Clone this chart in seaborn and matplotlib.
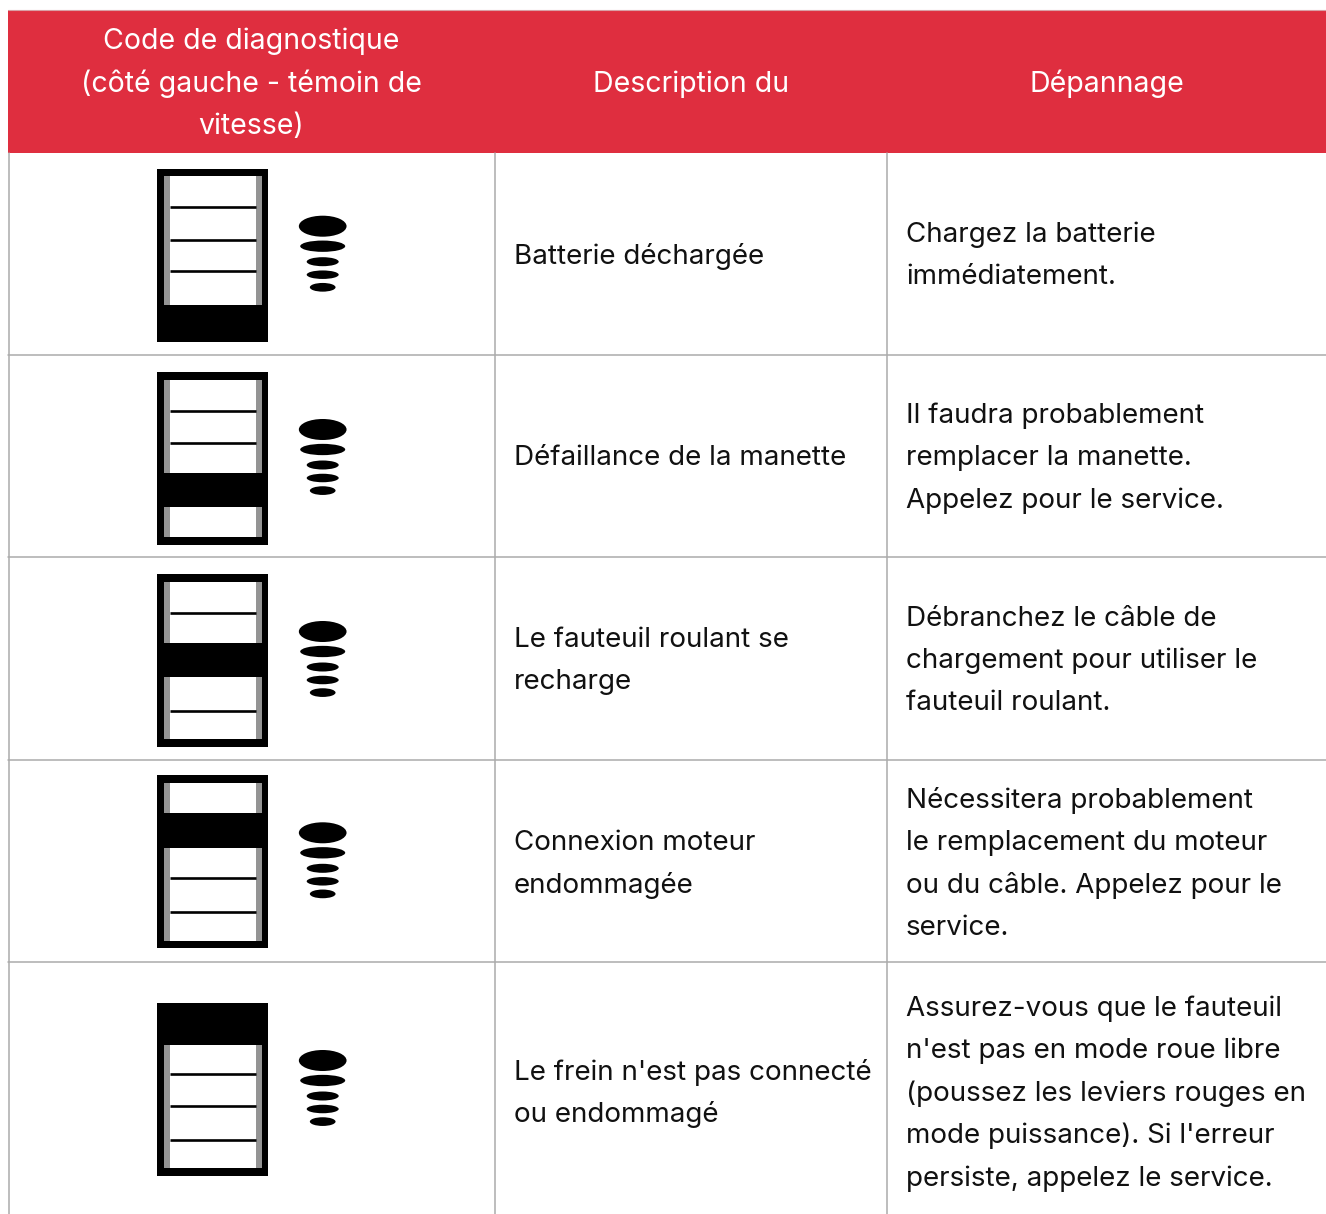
import matplotlib.pyplot as plt
import seaborn as sns
from matplotlib.patches import Ellipse, Rectangle

sns.set_theme(style="white")
plt.rcParams["font.family"] = ["Inter", "DejaVu Sans"]

# table content
headers = [
    ["Code de diagnostique", "(côté gauche - témoin de", "vitesse)"],
    ["Description du"],
    ["Dépannage"],
]
descriptions = [
    ["Batterie déchargée"],
    ["Défaillance de la manette"],
    ["Le fauteuil roulant se", "recharge"],
    ["Connexion moteur", "endommagée"],
    ["Le frein n'est pas connecté", "ou endommagé"],
]
fixes = [
    ["Chargez la batterie", "immédiatement."],
    ["Il faudra probablement", "remplacer la manette.", "Appelez pour le service."],
    ["Débranchez le câble de", "chargement pour utiliser le", "fauteuil roulant."],
    ["Nécessitera probablement", "le remplacement du moteur", "ou du câble. Appelez pour le", "service."],
    ["Assurez-vous que le fauteuil", "n'est pas en mode roue libre", "(poussez les leviers rouges en",
     "mode puissance). Si l'erreur", "persiste, appelez le service."],
]
# which battery segment is lit, 0 = top
lit_segment = [4, 3, 2, 1, 0]

# layout, in pixels
W, H = 1326, 1214
RED = "#DF2E3F"
GRID = "#ABABAB"
col_x = [8.5, 495, 887]
row_y = [354.5, 557, 759.5, 962]
row_mid = [256, 458, 661, 864, 1093.5]
icon_top = [168.7, 372, 574, 775.3, 1003]
seg_edges = [(0, 42), (37.4, 72.4), (69, 103), (101, 135), (136, 173)]
seg_lines = [38.5, 71, 102.5, 137]
dots = [(57.5, 47.7, 21), (77.5, 45, 11.3), (93, 32, 9), (106, 32, 8.5), (118.6, 25.7, 8.7)]
LINE = 42.5
FS = 20
FS_HEAD = 20.5

fig, ax = plt.subplots(figsize=(W / 100, H / 100), dpi=100)
fig.subplots_adjust(0, 0, 1, 1)
ax.set_xlim(0, W)
ax.set_ylim(H, 0)
ax.axis("off")


def text_block(x, mid, lines, size=FS, **kw):
    for i, line in enumerate(lines):
        y = mid + (i - (len(lines) - 1) / 2) * LINE
        ax.text(x, y, line, fontsize=size, va="center", **kw)


def draw_icon(top, lit):
    black = "#000000"
    ax.add_patch(Rectangle((157.3, top), 110.7, 173, color=black, lw=0))
    ax.add_patch(Rectangle((164.3, top + 7.5), 97.4, 157.8, color="#949494", lw=0))
    ax.add_patch(Rectangle((170, top + 7.5), 86, 157.8, color="white", lw=0))
    y0, y1 = seg_edges[lit]
    ax.add_patch(Rectangle((157.3, top + y0), 110.7, y1 - y0, color=black, lw=0))
    for s in seg_lines:
        if s < y0 - 3 or s > y1 + 3:
            ax.plot([170, 256], [top + s, top + s], color=black, lw=1.9, solid_capstyle="butt")
    for dy, w, h in dots:
        ax.add_patch(Ellipse((322.7, top + dy), w, h, color=black, lw=0))


# header band
ax.add_patch(Rectangle((8, 10), W - 8, 143, color=RED, lw=0))
ax.plot([8, W], [9.5, 9.5], color="#D9A0A6", lw=0.8)
for x, lines in zip([251, 691, 1107], headers):
    text_block(x, 84, lines, size=FS_HEAD, ha="center", color="white")

# grid
for y in row_y:
    ax.plot([8, W], [y, y], color=GRID, lw=1.1)
for x in col_x:
    ax.plot([x, x], [153, H], color=GRID, lw=1.1)

for i in range(5):
    draw_icon(icon_top[i], lit_segment[i])
    text_block(514, row_mid[i], descriptions[i], ha="left", color="#111111")
    text_block(906, row_mid[i], fixes[i], ha="left", color="#111111")

fig.savefig("out.png", dpi=100)
